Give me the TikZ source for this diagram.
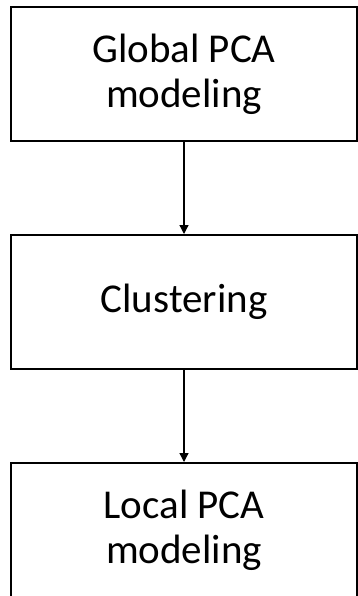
\documentclass[tikz,border=0pt]{standalone}
\usepackage{fontspec}
\setmainfont{Carlito}
\usetikzlibrary{arrows.meta}
\tikzset{
  stagebox/.style={draw=black, line width=2pt, fill=white, minimum width=346pt,
    minimum height=134pt, inner sep=0pt, align=center,
    font=\fontsize{41}{45}\selectfont},
  flow/.style={draw=black, line width=1.3pt, -{Triangle[length=9pt,width=9pt]}}
}
\begin{document}
\begin{tikzpicture}[x=1pt,y=-1pt]
  \useasboundingbox (0,0) rectangle (358,596);
  \node[stagebox] (global) at (184,74)  {Global PCA\\modeling};
  \node[stagebox] (clust)  at (184,302) {Clustering};
  \node[stagebox] (local)  at (184,530) {Local PCA\\modeling};
  \draw[flow] (global.south) -- (clust.north);
  \draw[flow] (clust.south) -- (local.north);
\end{tikzpicture}
\end{document}
